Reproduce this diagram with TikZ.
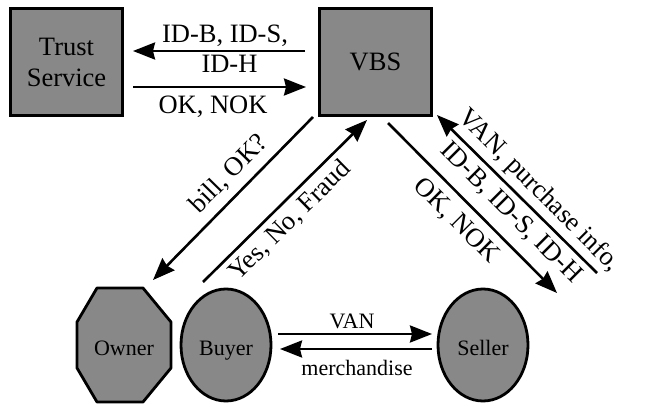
\documentclass[tikz,border=0pt]{standalone}
\usepackage{fontspec}
\setmainfont{Liberation Serif}
\usetikzlibrary{arrows.meta}
\definecolor{boxgray}{RGB}{136,136,136}
\tikzset{
  txt/.style={font=\fontsize{26.5}{31}\selectfont, inner sep=0pt},
  smalltxt/.style={font=\fontsize{22}{26}\selectfont, inner sep=0pt},
  box/.style={txt, draw=black, line width=3pt, fill=boxgray, minimum width=112pt, minimum height=107pt, align=center},
  oval/.style={draw=black, line width=2.8pt, fill=boxgray},
  arr/.style={line width=2.6pt, -{Stealth[length=22pt,width=17pt,inset=2pt]}},
}
\begin{document}
\begin{tikzpicture}[x=1pt,y=-1pt]
\useasboundingbox (0,0) rectangle (656,404);
% boxes
\node[box] (trust) at (66.5,62) {Trust\\Service};
\node[box] (vbs) at (375.5,62) {VBS};
% owner octagon
\draw[oval, line join=round] (97,288) -- (143,288) -- (171,322) -- (171,368) -- (143,402) -- (97,402) -- (77,368) -- (77,322) -- cycle;
\node[smalltxt, anchor=base] (owner) at (124,355) {Owner};
% buyer, seller
\draw[oval] (226,345) ellipse [x radius=45, y radius=56];
\node[smalltxt, anchor=base] (buyer) at (226,355) {Buyer};
\draw[oval] (483,345) ellipse [x radius=45, y radius=56];
\node[smalltxt, anchor=base] (seller) at (483,355) {Seller};
% arrow end points
\coordinate (tA1) at (305,51);  \coordinate (tA2) at (133,51);
\coordinate (tB1) at (133,87);  \coordinate (tB2) at (306,87);
\coordinate (dA1) at (313,117); \coordinate (dA2) at (153,280);
\coordinate (dB1) at (203,282); \coordinate (dB2) at (367,120);
\coordinate (rA1) at (388,123); \coordinate (rA2) at (557,293);
\coordinate (rB1) at (597,273); \coordinate (rB2) at (437,115);
\coordinate (bA1) at (278,334); \coordinate (bA2) at (432,334);
\coordinate (bB1) at (432,349); \coordinate (bB2) at (280,349);
% arrows
\draw[arr] (tA1) -- (tA2);
\draw[arr] (tB1) -- (tB2);
\draw[arr] (dA1) -- (dA2);
\draw[arr] (dB1) -- (dB2);
\draw[arr] (rA1) -- (rA2);
\draw[arr] (rB1) -- (rB2);
\draw[arr] (bA1) -- (bA2);
\draw[arr] (bB1) -- (bB2);
% labels
\node[txt, anchor=base] (l1) at (225,43) {ID-B, ID-S,};
\node[txt, anchor=base] (l2) at (229.5,73) {ID-H};
\node[txt, anchor=base] (l3) at (213,113) {OK, NOK};
\node[txt, rotate=45.5] (l4) at (229,174) {bill, OK?};
\node[txt, rotate=44.5] (l5) at (290,221) {Yes, No, Fraud};
\node[txt, rotate=-45] (l6) at (456,221) {OK, NOK};
\node[txt, rotate=-45] (l7) at (511,213) {ID-B, ID-S, ID-H};
\node[txt, rotate=-45] (l8) at (539,191) {VAN, purchase info,};
\node[smalltxt, anchor=base] (l9) at (352,328) {VAN};
\node[smalltxt, anchor=base] (l10) at (357,375) {merchandise};
\end{tikzpicture}
\end{document}
